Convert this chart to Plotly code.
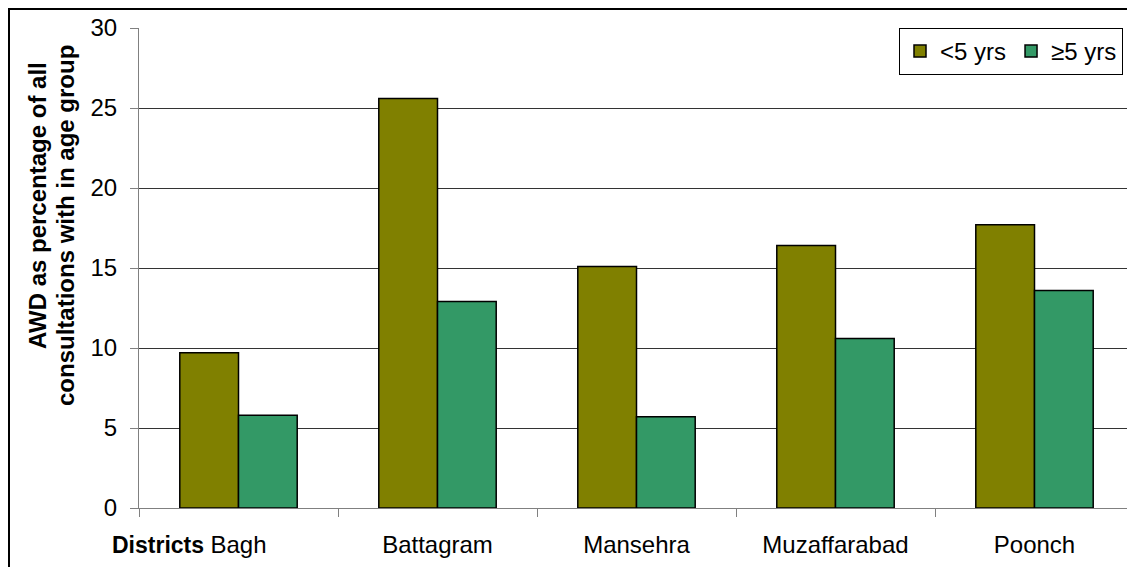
import plotly.graph_objects as go

districts = ["Bagh", "Battagram", "Mansehra", "Muzaffarabad", "Poonch"]
under5 = [9.7, 25.6, 15.1, 16.4, 17.7]
over5 = [5.8, 12.9, 5.7, 10.6, 13.6]
series_names = ["<5 yrs", "≥5 yrs"]
y_ticks = [0, 5, 10, 15, 20, 25, 30]
title_lines = ["AWD as percentage of all", "consultations with in age group"]

OFF = 8  # page body margin offset
W, H = 1135 - OFF, 567 - OFF
L, R, T, B = 139 - OFF, 1, 28 - OFF, 59
pw, ph = W - L - R, H - T - B

def px_x(p):
    return (p - OFF - L) / pw

def px_y(p):
    return (H - B - (p - OFF)) / ph

font = "Liberation Sans, Arial, sans-serif"
FS = 24

fig = go.Figure()
fig.add_trace(go.Bar(x=districts, y=under5, name=series_names[0],
                     marker=dict(color="#808000", line=dict(color="black", width=1.5))))
fig.add_trace(go.Bar(x=districts, y=over5, name=series_names[1],
                     marker=dict(color="#339966", line=dict(color="black", width=1.5))))

fig.update_layout(
    width=W, height=H,
    margin=dict(l=L, r=R, t=T, b=B),
    paper_bgcolor="white", plot_bgcolor="white",
    barmode="group", bargap=0.41, bargroupgap=0,
    font=dict(family=font, size=FS, color="black"),
    legend=dict(orientation="h", x=px_x(899), y=1.0, xanchor="left", yanchor="top",
                bordercolor="black", borderwidth=1, bgcolor="white",
                font=dict(size=FS), itemwidth=30, tracegroupgap=0),
    showlegend=True,
)
fig.update_xaxes(
    showline=True, linecolor="#808080", linewidth=1,
    ticks="outside", ticklen=8, tickcolor="#808080", tickson="boundaries",
    showgrid=False, tickfont=dict(size=FS), ticklabelstandoff=15,
)
fig.update_yaxes(
    range=[0, 30], tickvals=y_ticks, showline=True, linecolor="#808080", linewidth=1,
    ticks="outside", ticklen=8, tickcolor="#808080",
    showgrid=True, gridcolor="#333333", gridwidth=1, zeroline=False,
    tickfont=dict(size=FS), ticklabelstandoff=8,
)
for txt, xc, yc in zip(title_lines, [37, 65], [206, 226]):
    fig.add_annotation(
        text=txt, xref="paper", yref="paper", x=px_x(xc), y=px_y(yc),
        xanchor="center", yanchor="middle", textangle=-90, showarrow=False,
        font=dict(size=FS, family=font, color="black", weight="bold"),
    )
fig.add_annotation(
    text="<b>Districts</b>", xref="paper", yref="paper",
    x=px_x(206), y=px_y(545), xanchor="right", yanchor="middle", showarrow=False,
    font=dict(size=23, family=font, color="black"),
)
fig.add_shape(type="rect", xref="paper", yref="paper",
              x0=px_x(OFF + 1), x1=px_x(1160), y0=px_y(600), y1=px_y(OFF + 1),
              line=dict(color="black", width=2), fillcolor="rgba(0,0,0,0)", layer="above")

fig.write_html("out.html")
